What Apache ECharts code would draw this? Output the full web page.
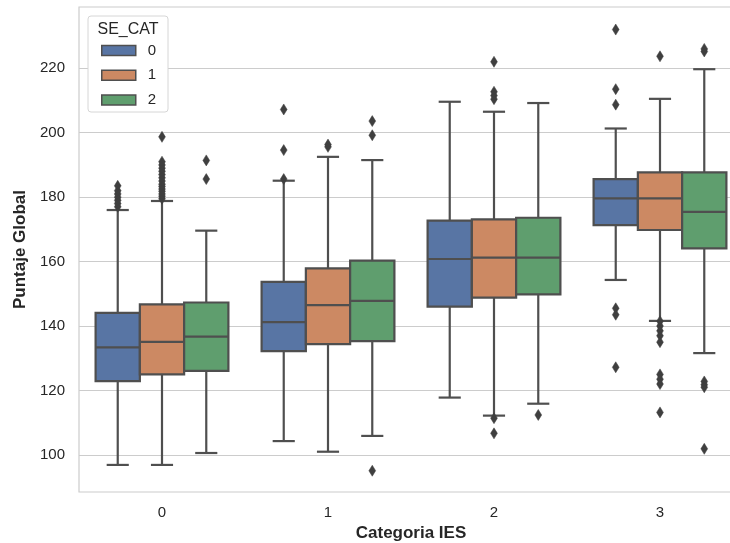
<!DOCTYPE html>
<html><head><meta charset="utf-8">
<script src="https://cdn.jsdelivr.net/npm/echarts@6/dist/echarts.min.js"></script>
<style>html,body{margin:0;padding:0;background:#fff}#c{width:730px;height:543px}</style>
</head><body><div id="c"></div>
<script>
const categories = ['0', '1', '2', '3'];
const hues = ['0', '1', '2'];
const hueColors = ['#5875A4', '#CC8963', '#5F9E6E'];
const yTicks = [100, 120, 140, 160, 180, 200, 220];
// per category: [min whisker, Q1, median, Q3, max whisker]
const box0 = [[96.9, 122.9, 133.4, 144.1, 176.0], [104.3, 132.2, 141.2, 153.7, 185.1], [117.8, 146.0, 160.8, 172.7, 209.6], [154.3, 171.3, 179.6, 185.6, 201.3]];
const box1 = [[96.9, 125.0, 135.1, 146.7, 178.8], [101.0, 134.4, 146.5, 157.9, 192.5], [112.2, 148.8, 161.2, 173.1, 206.5], [141.6, 169.8, 179.6, 187.7, 210.5]];
const box2 = [[100.6, 126.1, 136.7, 147.3, 169.6], [105.9, 135.3, 147.8, 160.3, 191.5], [115.9, 149.8, 161.2, 173.6, 209.2], [131.6, 164.1, 175.4, 187.7, 219.7]];
// outliers per category
const out0 = [[177.0, 178.0, 179.0, 180.0, 181.0, 182.0, 183.5], [185.6, 194.6, 207.2], [], [232.0, 213.5, 208.7, 145.5, 143.5, 127.2]];
const out1 = [[179.5, 180.3, 181.0, 181.8, 182.5, 183.3, 184.0, 185.0, 186.0, 187.0, 188.0, 189.0, 190.0, 191.0, 198.7], [195.6, 196.3], [222.0, 212.7, 211.5, 210.4, 111.4, 106.7], [223.7, 141.5, 140.0, 138.5, 137.0, 135.0, 125.0, 123.5, 122.0, 113.2]];
const out2 = [[191.4, 185.6], [203.6, 199.2, 95.1], [112.4], [225.2, 226.0, 122.8, 121.8, 121.0, 101.9]];

const boxes = [box0, box1, box2];
const outs = [out0, out1, out2];
const LINE = '#4f4f4f';
const FONT = 'Liberation Sans, Arial, sans-serif';

function boxRender(h) {
  return function (params, api) {
    const cat = api.value(0);
    const bw = api.size([1, 0])[0];
    const w = bw * 0.8 / 3;
    const cx = api.coord([cat, 100])[0] + (h - 1) * w;
    const y = i => api.coord([cat, api.value(i)])[1];
    const yMin = y(1), yQ1 = y(2), yMed = y(3), yQ3 = y(4), yMax = y(5);
    const ls = { stroke: LINE, lineWidth: 2.2, fill: null };
    return {
      type: 'group', children: [
        { type: 'line', shape: { x1: cx, y1: yQ1, x2: cx, y2: yMin }, style: ls },
        { type: 'line', shape: { x1: cx, y1: yQ3, x2: cx, y2: yMax }, style: ls },
        { type: 'line', shape: { x1: cx - w / 4, y1: yMin, x2: cx + w / 4, y2: yMin }, style: ls },
        { type: 'line', shape: { x1: cx - w / 4, y1: yMax, x2: cx + w / 4, y2: yMax }, style: ls },
        { type: 'rect', shape: { x: cx - w / 2, y: yQ3, width: w, height: yQ1 - yQ3 }, style: { fill: hueColors[h], stroke: LINE, lineWidth: 2.2 } },
        { type: 'line', shape: { x1: cx - w / 2, y1: yMed, x2: cx + w / 2, y2: yMed }, style: ls }
      ]
    };
  };
}
function outRender(h) {
  return function (params, api) {
    const cat = api.value(0);
    const bw = api.size([1, 0])[0];
    const w = bw * 0.8 / 3;
    const p = api.coord([cat, api.value(1)]);
    const cx = p[0] + (h - 1) * w, cy = p[1];
    return {
      type: 'polygon',
      shape: { points: [[cx, cy - 5.5], [cx + 3.4, cy], [cx, cy + 5.5], [cx - 3.4, cy]] },
      style: { fill: '#3f3f3f', stroke: '#3f3f3f', lineWidth: 0.5 }
    };
  };
}

const series = [];
hues.forEach((name, h) => {
  series.push({
    name: name, type: 'custom', z: 3,
    itemStyle: { color: hueColors[h] },
    encode: { x: 0, y: [1, 2, 3, 4, 5] },
    renderItem: boxRender(h),
    data: boxes[h].map((b, i) => [i].concat(b))
  });
});
hues.forEach((name, h) => {
  const d = [];
  outs[h].forEach((arr, i) => arr.forEach(v => d.push([i, v])));
  series.push({
    name: 'out' + name, type: 'custom', z: 4,
    encode: { x: 0, y: 1 },
    renderItem: outRender(h),
    data: d
  });
});

const chart = echarts.init(document.getElementById('c'), null, { renderer: 'canvas' });
chart.setOption({
  animation: false,
  backgroundColor: '#fff',
  textStyle: { fontFamily: FONT },
  grid: { left: 79, top: 7, width: 664, height: 485, outerBoundsMode: 'none', containLabel: false, show: true, borderColor: '#cccccc', borderWidth: 1.2, backgroundColor: 'transparent' },
  xAxis: {
    type: 'category', data: categories, boundaryGap: true,
    axisLine: { show: false }, axisTick: { show: false },
    axisLabel: { fontSize: 15, color: '#262626', margin: 13, fontFamily: FONT },
    splitLine: { show: false },
    name: 'Categoria IES', nameLocation: 'middle', nameGap: 33,
    nameTextStyle: { fontSize: 17, fontWeight: 'bold', color: '#262626', fontFamily: FONT }
  },
  yAxis: {
    type: 'value', min: 88.5, max: 239,
    axisLine: { show: false }, axisTick: { show: false, customValues: yTicks },
    axisLabel: { fontSize: 15, color: '#262626', margin: 14, fontFamily: FONT, customValues: yTicks },
    splitLine: { show: true, lineStyle: { color: '#cccccc', width: 1.2 } },
    name: 'Puntaje Global', nameLocation: 'middle', nameGap: 44,
    nameTextStyle: { fontSize: 17, fontWeight: 'bold', color: '#262626', fontFamily: FONT }
  },
  legend: {
    data: hues, orient: 'vertical', left: 101, top: 43, padding: 0,
    icon: 'rect', itemWidth: 34, itemHeight: 10, itemGap: 9.8,
    itemStyle: { borderColor: LINE, borderWidth: 1.5 },
    textStyle: { fontSize: 15, color: '#262626', lineHeight: 14, padding: [0, 0, 0, 7], fontFamily: FONT },
    selectedMode: false, z: 10
  },
  graphic: [
    { type: 'rect', z: 9, shape: { x: 88, y: 16, width: 80, height: 96, r: 3 }, style: { fill: '#fff', stroke: '#d6d6d6', lineWidth: 1 } },
    { type: 'text', z: 10, x: 128, y: 30, style: { text: 'SE_CAT', fontSize: 16, fill: '#262626', fontFamily: FONT, align: 'center', verticalAlign: 'middle' } }
  ],
  series: series
});
</script></body></html>
